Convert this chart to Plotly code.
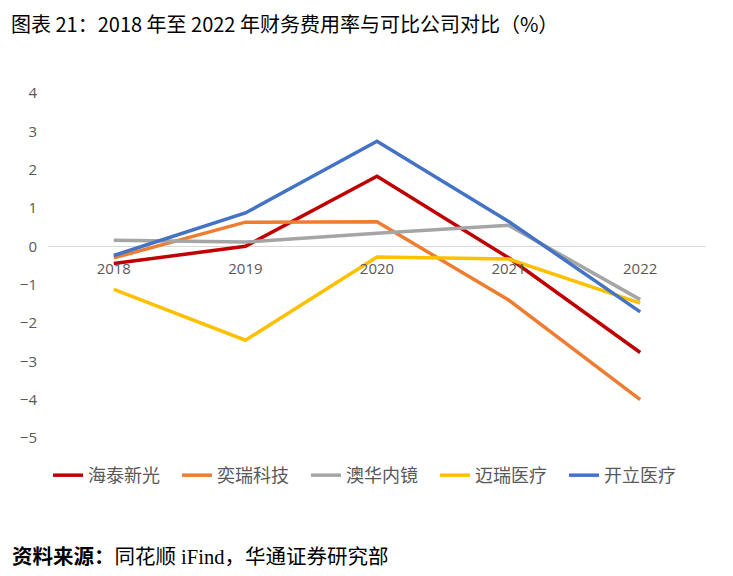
import plotly.graph_objects as go

years = ["2018", "2019", "2020", "2021", "2022"]

haitai = [-0.45, 0.0, 1.83, -0.3, -2.77]
yirui = [-0.3, 0.63, 0.64, -1.4, -4.0]
aohua = [0.16, 0.11, 0.34, 0.55, -1.39]
mairui = [-1.12, -2.45, -0.28, -0.33, -1.48]
kaili = [-0.24, 0.87, 2.74, 0.65, -1.71]

series = [
    ("海泰新光", haitai, "#C00000"),
    ("奕瑞科技", yirui, "#ED7D31"),
    ("澳华内镜", aohua, "#A5A5A5"),
    ("迈瑞医疗", mairui, "#FFC000"),
    ("开立医疗", kaili, "#4472C4"),
]

fig = go.Figure()
for name, vals, color in series:
    fig.add_trace(go.Scatter(
        x=years, y=vals, name=name, mode="lines",
        line=dict(color=color, width=3.5)))

# page body has an 8px margin, so the figure is sized to fit inside it
fig.update_layout(
    width=717, height=560,
    paper_bgcolor="white", plot_bgcolor="white",
    margin=dict(l=38, r=19, t=85, b=130),
    showlegend=True,
    legend=dict(orientation="h", x=0.0, xanchor="left", y=-0.055, yanchor="top",
                font=dict(family="Noto Sans CJK SC", size=18, color="#595959"),
                entrywidth=84, tracegroupgap=0),
    annotations=[
        dict(text="图表 21：2018 年至 2022 年财务费用率与可比公司对比（%）",
             xref="paper", yref="paper", x=-0.0576, y=1.246, xanchor="left", yanchor="top",
             showarrow=False, borderpad=0,
             font=dict(family="Liberation Sans Narrow, Noto Sans CJK SC", size=20, color="black")),
        dict(text="<b>资料来源：</b>同花顺 iFind，华通证券研究部",
             xref="paper", yref="paper", x=-0.0576, y=-0.345, xanchor="left", yanchor="middle",
             showarrow=False,
             font=dict(family="Liberation Serif, Noto Sans CJK SC", size=20.5, color="black")),
    ],
)

fig.update_xaxes(
    type="category", range=[-0.5, 4.5],
    anchor="free", position=5 / 9,
    showgrid=False, showline=False, zeroline=False,
    ticks="outside", ticklen=9, tickcolor="rgba(0,0,0,0)",
    tickfont=dict(family="Open Sans", size=15, color="#595959"),
)
fig.update_yaxes(
    range=[-5, 4], dtick=1,
    showgrid=False, zeroline=True, zerolinecolor="#D9D9D9", zerolinewidth=1,
    showline=False, ticklabelstandoff=10,
    tickfont=dict(family="Open Sans", size=15, color="#595959"),
)

fig.write_html("out.html")
